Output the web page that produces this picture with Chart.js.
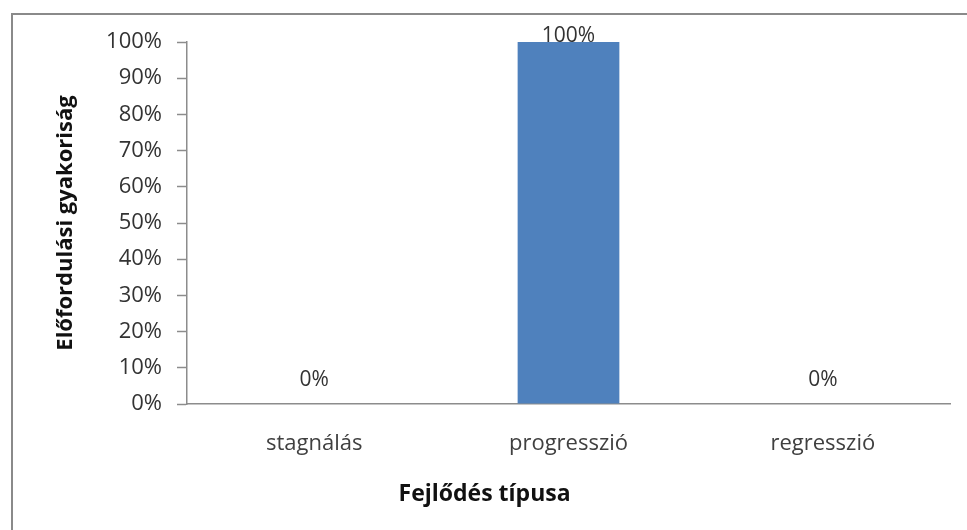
<!DOCTYPE html>
<html>
<head>
<meta charset="utf-8">
<script src="https://cdn.jsdelivr.net/npm/chart.js@4"></script>
<style>
  html, body { margin: 0; padding: 0; background: #fff; }
  #wrap { width: 967px; height: 530px; position: relative; }
</style>
</head>
<body>
<div id="wrap"><canvas id="c" width="967" height="530"></canvas></div>
<script>
// Chart data
const categories = ['stagnálás', 'progresszió', 'regresszió'];
const shares = [0, 100, 0];
const yTicks = [0, 10, 20, 30, 40, 50, 60, 70, 80, 90, 100];
const xAxisTitle = 'Fejlődés típusa';
const yAxisTitle = 'Előfordulási gyakoriság';

const FONT = '"Open Sans", "Liberation Sans", sans-serif';
const PLOT_LEFT = 187, PLOT_RIGHT = 950, PLOT_TOP = 42, PLOT_BOTTOM = 404;

// Frame lines along the top and left edges
const framePlugin = {
  id: 'frame',
  beforeDraw(chart) {
    const ctx = chart.ctx;
    ctx.save();
    ctx.fillStyle = '#fff';
    ctx.fillRect(0, 0, chart.width, chart.height);
    ctx.strokeStyle = '#8a8a8a';
    ctx.lineWidth = 2;
    ctx.beginPath();
    ctx.moveTo(12, chart.height);
    ctx.lineTo(12, 14);
    ctx.lineTo(chart.width, 14);
    ctx.stroke();
    ctx.restore();
  }
};

// Value labels above each bar
const valueLabels = {
  id: 'valueLabels',
  afterDatasetsDraw(chart) {
    const ctx = chart.ctx;
    const meta = chart.getDatasetMeta(0);
    ctx.save();
    ctx.font = '21px ' + FONT;
    ctx.fillStyle = '#333';
    ctx.textAlign = 'center';
    ctx.textBaseline = 'middle';
    meta.data.forEach((bar, i) => {
      const v = chart.data.datasets[0].data[i];
      const y = v >= 100 ? bar.y - 6 : bar.y - 24;
      ctx.fillText(v + '%', bar.x, y);
    });
    ctx.restore();
  }
};

// Category axis title, set a little left of the plot centre
const xTitlePlugin = {
  id: 'xTitle',
  afterDraw(chart) {
    const ctx = chart.ctx;
    const xs = chart.scales.x;
    ctx.save();
    ctx.font = 'bold 23px ' + FONT;
    ctx.fillStyle = '#111';
    ctx.textAlign = 'center';
    ctx.textBaseline = 'middle';
    const cx = xs.left + (xs.right - xs.left) * 0.39;
    ctx.fillText(xAxisTitle, cx, xs.top + 90);
    ctx.restore();
  }
};

new Chart(document.getElementById('c'), {
  type: 'bar',
  data: {
    labels: categories,
    datasets: [{
      data: shares,
      backgroundColor: '#4f81bd',
      categoryPercentage: 0.4,
      barPercentage: 1.0
    }]
  },
  options: {
    responsive: false,
    animation: false,
    layout: { padding: { left: 0, right: 967 - PLOT_RIGHT, top: PLOT_TOP, bottom: 0 } },
    plugins: { legend: { display: false }, tooltip: { enabled: false } },
    scales: {
      x: {
        grid: { display: false, drawTicks: false },
        border: { color: '#8c8c8c', width: 1.5 },
        ticks: { color: '#404040', font: { family: FONT, size: 22 }, padding: 27 },
        afterFit(s) { s.height = 530 - PLOT_BOTTOM; }
      },
      y: {
        min: 0, max: 100,
        afterBuildTicks(s) { s.ticks = yTicks.map(v => ({ value: v })); },
        grid: { display: true, drawOnChartArea: false, drawTicks: true, tickLength: 10, color: '#8c8c8c', tickWidth: 1.5 },
        border: { color: '#8c8c8c', width: 1.5 },
        ticks: { color: '#333', font: { family: FONT, size: 22 }, padding: 15,
                 callback: v => v + '%' },
        title: { display: true, text: yAxisTitle, color: '#111',
                 font: { family: FONT, size: 22, weight: 'bold' }, padding: { top: 53, bottom: 0 } },
        afterFit(s) { s.width = PLOT_LEFT; }
      }
    }
  },
  plugins: [framePlugin, valueLabels, xTitlePlugin]
});
</script>
</body>
</html>
